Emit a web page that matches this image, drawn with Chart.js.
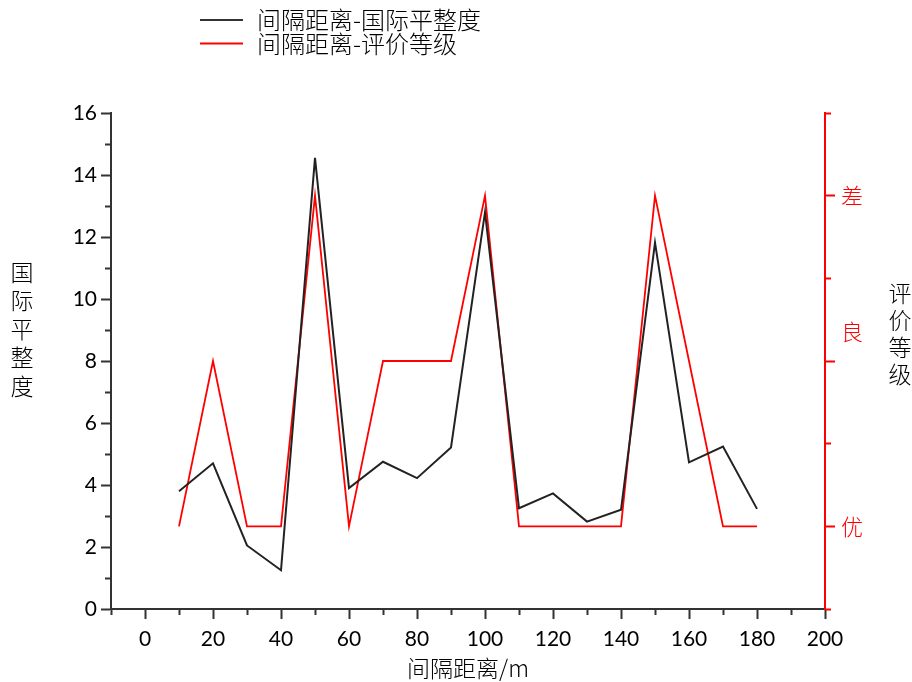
<!DOCTYPE html>
<html>
<head>
<meta charset="utf-8">
<title>间隔距离-国际平整度</title>
<script src="https://cdn.jsdelivr.net/npm/chart.js@4/dist/chart.umd.min.js"></script>
<style>
  html, body { margin: 0; padding: 0; background: #fff; }
  #chart { display: block; }
</style>
</head>
<body>
<canvas id="chart" width="912" height="682"></canvas>
<script>
// data
const distance = [10, 20, 30, 40, 50, 60, 70, 80, 90, 100, 110, 120, 130, 140, 150, 160, 170, 180];
const iri = [3.8, 4.7, 2.05, 1.25, 14.55, 3.9, 4.75, 4.22, 5.21, 12.8, 3.25, 3.73, 2.82, 3.2, 11.82, 4.73, 5.24, 3.23];
const grade = [1, 3, 1, 1, 5, 1, 3, 3, 3, 5, 1, 1, 1, 1, 5, 3, 1, 1];

const gradeTicks = [1, 3.35, 5];
const gradeNames = ["优", "良", "差"];

const seriesNames = ["间隔距离-国际平整度", "间隔距离-评价等级"];
const leftTitle = "国际平整度";
const rightTitle = "评价等级";
const xTitle = "间隔距离/m";

const CJK = '"Noto Sans CJK SC", sans-serif';
const NUM = 'Lato, "Liberation Sans", sans-serif';
const DARK = "#333";
const RED = "#ff0000";

// short ticks for the minor values
const minorDash = [5, 50];
const minorDashLeft = [0, 4, 5, 50];

// legend and vertical axis titles
const extras = {
  id: "extras",
  afterDraw(chart) {
    const c = chart.ctx;
    c.save();
    c.lineWidth = 2;
    [DARK, RED].forEach((col, i) => {
      const y = 20 + i * 23.5;
      c.strokeStyle = col;
      c.beginPath();
      c.moveTo(200, y);
      c.lineTo(243, y);
      c.stroke();
      c.fillStyle = "#000";
      c.font = "300 24px " + CJK;
      c.textBaseline = "middle";
      c.textAlign = "left";
      c.fillText(seriesNames[i], 257, y);
    });

    c.font = "300 23px " + CJK;
    c.textAlign = "center";
    c.fillStyle = "#000";
    [...leftTitle].forEach((ch, i) => c.fillText(ch, 22, 272 + i * 28.5));
    [...rightTitle].forEach((ch, i) => c.fillText(ch, 900, 293 + i * 27));
    c.restore();
  }
};

new Chart(document.getElementById("chart"), {
  type: "line",
  data: {
    datasets: [
      {
        label: seriesNames[0],
        data: distance.map((d, i) => ({ x: d, y: iri[i] })),
        borderColor: "#222",
        borderWidth: 2,
        pointRadius: 0,
        yAxisID: "y"
      },
      {
        label: seriesNames[1],
        data: distance.map((d, i) => ({ x: d, y: grade[i] })),
        borderColor: RED,
        borderWidth: 1.8,
        pointRadius: 0,
        yAxisID: "y1"
      }
    ]
  },
  options: {
    responsive: false,
    animation: false,
    layout: { padding: { top: 113, left: 0, right: 0, bottom: 0 } },
    plugins: {
      legend: { display: false },
      tooltip: { enabled: false }
    },
    scales: {
      x: {
        type: "linear",
        min: -10,
        max: 200,
        afterFit: s => { s.height = 73; },
        border: { color: DARK, width: 2 },
        grid: {
          drawOnChartArea: false,
          tickLength: 10,
          tickWidth: 2,
          tickColor: DARK,
          tickBorderDash: ctx => (ctx.tick && ctx.tick.value % 20 !== 0 ? minorDash : [])
        },
        ticks: {
          stepSize: 10,
          autoSkip: false,
          maxRotation: 0,
          padding: 8,
          color: "#000",
          font: { family: NUM, size: 21 },
          callback: v => (v % 20 === 0 ? v : "")
        },
        title: {
          display: true,
          text: xTitle,
          color: "#000",
          font: { family: CJK, size: 23, weight: 300 },
          padding: { top: 0, bottom: 0 }
        }
      },
      y: {
        position: "left",
        min: 0,
        max: 16,
        afterFit: s => { s.width = 111; },
        border: { color: DARK, width: 2 },
        grid: {
          drawOnChartArea: false,
          tickLength: 10,
          tickWidth: 2,
          tickColor: DARK,
          tickBorderDash: ctx => (ctx.tick && ctx.tick.value % 2 !== 0 ? minorDashLeft : [])
        },
        ticks: {
          stepSize: 1,
          autoSkip: false,
          padding: 4,
          color: "#000",
          font: { family: NUM, size: 21 },
          callback: v => (v % 2 === 0 ? v : "")
        }
      },
      y1: {
        position: "right",
        min: 0,
        max: 6,
        afterFit: s => { s.width = 87; },
        afterBuildTicks: s => {
          s.ticks = [0, 1, 2, 3, 4, 5, 6].concat(gradeTicks.filter(v => v % 1 !== 0))
            .sort((a, b) => a - b)
            .map(v => ({ value: v }));
        },
        border: { color: RED, width: 2 },
        grid: {
          drawOnChartArea: false,
          tickLength: 10,
          tickWidth: 2,
          tickColor: ctx => (ctx.tick && ctx.tick.value % 1 !== 0 ? "rgba(0,0,0,0)" : RED),
          tickBorderDash: ctx => (ctx.tick && ctx.tick.value % 2 === 0 ? minorDash : [])
        },
        ticks: {
          autoSkip: false,
          padding: 6,
          color: RED,
          font: { family: CJK, size: 22, weight: 300 },
          callback: v => {
            const i = gradeTicks.indexOf(v);
            return i >= 0 ? gradeNames[i] : "";
          }
        }
      }
    }
  },
  plugins: [extras]
});
</script>
</body>
</html>
